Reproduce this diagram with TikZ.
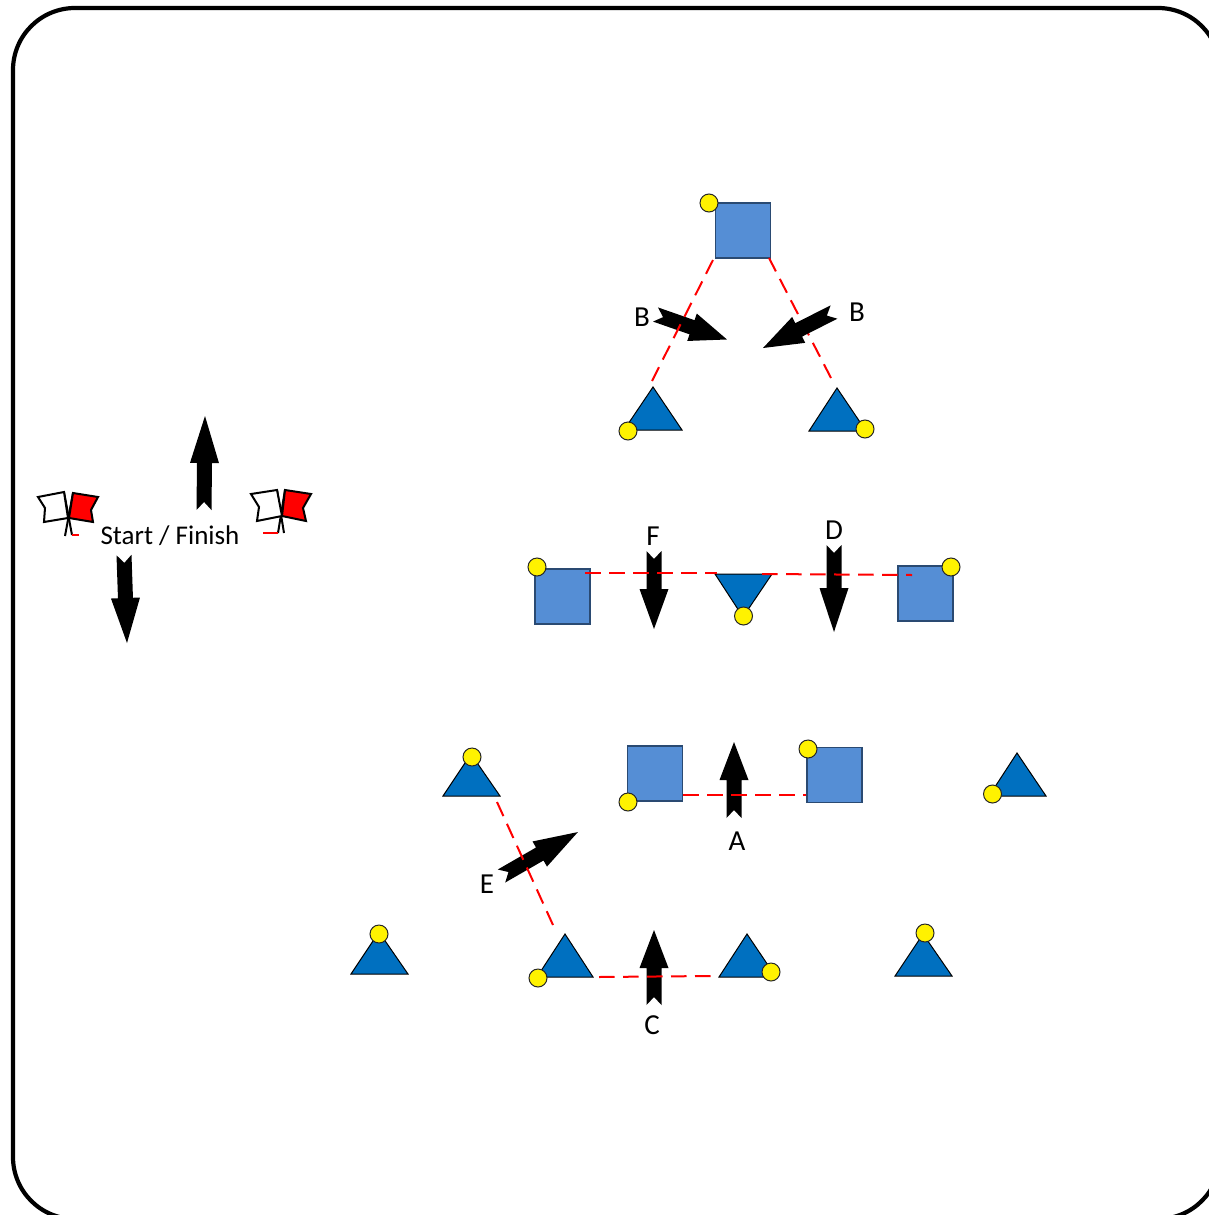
\documentclass[tikz,border=0pt]{standalone}
\usepackage{fontspec}
\setmainfont{Carlito}
\usetikzlibrary{calc}
\definecolor{sqblue}{HTML}{558ED5}
\definecolor{sqedge}{HTML}{2A4A72}
\definecolor{triblue}{HTML}{0070C0}
\tikzset{
  frame/.style={draw=black,line width=4.2pt,rounded corners=62pt},
  sq/.style={draw=sqedge,fill=sqblue,line width=1.2pt,minimum size=55pt,inner sep=0pt,rectangle},
  tri/.style={draw=black,fill=triblue,line width=1pt,line join=miter},
  dot/.style={circle,draw=black!85,fill=yellow,line width=1pt,minimum size=18pt,inner sep=0pt},
  redline/.style={draw=red,line width=2pt,dash pattern=on 15.5pt off 8.5pt},
  redtick/.style={draw=red,line width=2pt},
  arrowshape/.style={fill=black,draw=none},
  flagw/.style={draw=black,fill=white,line width=2pt,line join=miter},
  flagr/.style={draw=black,fill=red,line width=2pt,line join=miter},
  pole/.style={draw=black,line width=2pt},
  lab/.style={inner sep=0pt,font=\fontsize{27pt}{30pt}\selectfont,text=black},
  letter/.style={inner sep=0pt,font=\fontsize{29pt}{32pt}\selectfont,text=black}
}
% #1 tail centre, #2 tip, #3 head length
\newcommand{\notchedarrow}[3]{%
  \path let \p1=(#1),\p2=(#2),\n1={atan2(\y2-\y1,\x2-\x1)},\n2={veclen(\x2-\x1,\y2-\y1)} in
   [shift={(\p1)},rotate=\n1]
   [arrowshape] (0pt,7.5pt) -- (\n2-#3pt,7.5pt) -- (\n2-#3pt,14.5pt) -- (\n2,0pt)
   -- (\n2-#3pt,-14.5pt) -- (\n2-#3pt,-7.5pt) -- (0pt,-7.5pt) -- (8pt,0pt) -- cycle;}
\begin{document}
\begin{tikzpicture}[x=1pt,y=-1pt]
\useasboundingbox (0,0) rectangle (1209,1215);
\clip (0,0) rectangle (1209,1215);
\path[frame] (13,8) rectangle (1220,1219);

% arrow ends
\foreach \n/\xa/\ya/\xb/\yb in {up/204/510/205/416,dn/124/555/127/643,f/654/551/654/629,d/834/545/834/632,a/734/818/734/742,c/654/1005/654/930,e/501.5/876/578/832,bl/655.5/314.5/727/339.5,br/834/312/763/348}{
  \coordinate (\n t) at (\xa,\ya);
  \coordinate (\n h) at (\xb,\yb);
}

% squares
\node[sq] (s1) at (743,230.5) {};
\node[sq] (s2) at (562.5,596.5) {};
\node[sq] (s3) at (925.5,593.5) {};
\node[sq] (s4) at (655,773.5) {};
\node[sq] (s5) at (834.5,775) {};

% triangles
\foreach \n/\a/\b/\l/\r/\base in {t1/653/387/624/682/430,t2/837/388/809/866/431,t3/471/754/443/500/796,t4/1017/753/989/1046/796,t5/379/932/351/408/974,t6/565/934/537/593/977,t7/747/934/719/776/977,t8/923/934/895/952/976}{
  \coordinate (\n) at (\a,\b);
  \path[tri] (\a,\b) -- (\r,\base) -- (\l,\base) -- cycle;
}
\coordinate (t9) at (743,617);
\path[tri] (t9) -- (772,574) -- (715,574) -- cycle;

% arrows
\notchedarrow{upt}{uph}{47}
\notchedarrow{dnt}{dnh}{45}
\notchedarrow{ft}{fh}{40}
\notchedarrow{dt}{dh}{44}
\notchedarrow{at}{ah}{38}
\notchedarrow{ct}{ch}{38}
\notchedarrow{et}{eh}{44}
\notchedarrow{blt}{blh}{37}

% connector ends
\coordinate (c1a) at (652,381); \coordinate (c1b) at (714,258);
\coordinate (c2a) at (831,378); \coordinate (c2b) at (769,258);
\coordinate (c3a) at (585,573); \coordinate (c3b) at (717,573);
\coordinate (c4a) at (762,574); \coordinate (c4b) at (912,575);
\coordinate (c5a) at (683,795); \coordinate (c5b) at (806,795);
\coordinate (c6a) at (497,802); \coordinate (c6b) at (553,925);
\coordinate (c7a) at (599,977); \coordinate (c7b) at (711,976);
\draw[redline] (c1a) -- (c1b);
\draw[redline] (c2a) -- (c2b);
\draw[redline] (c3a) -- (c3b);
\draw[redline] (c4a) -- (c4b);
\draw[redline] (c5a) -- (c5b);
\draw[redline] (c6a) -- (c6b);
\draw[redline] (c7a) -- (c7b);
\notchedarrow{brt}{brh}{40}

% dots
\foreach \n/\x/\y in {1/709/203,2/628/431,3/865/429,4/537/567,5/743.5/616,6/951/567,7/472/757,8/628/802,9/808/749,10/992.5/794,11/379/934,12/538/978,13/771/972,14/925/933}{
  \node[dot] (y\n) at (\x,\y) {};
}

% flags
\draw[pole] (73,493) -- (65,536);
\draw[pole] (64,492) -- (72,535);
\draw[flagw] (38,497) -- (64,492) -- (68,518) -- (44,522) -- (45,508) -- cycle;
\draw[flagr] (73,493) -- (98,497) -- (91,510) -- (93,522) -- (69,518) -- cycle;
\coordinate (ft1) at (72,535); \coordinate (ft2) at (79,535);
\draw[redtick] (ft1) -- (ft2);
\draw[pole] (277,490) -- (284,533);
\draw[pole] (285,490) -- (278,533);
\draw[flagw] (251,494) -- (277,490) -- (282,516) -- (257,521) -- (259,507) -- cycle;
\draw[flagr] (285,490) -- (311,494) -- (303,508) -- (306,521) -- (282,516) -- cycle;
\coordinate (ft3) at (263,533); \coordinate (ft4) at (278,533);
\draw[redtick] (ft3) -- (ft4);

% labels
\node[lab] (lsf) at (170,536) {Start / Finish};
\node[letter] (lb1) at (642,317) {B};
\node[letter] (lb2) at (857,312) {B};
\node[letter] (lf) at (653,536) {F};
\node[letter] (ld) at (834,530) {D};
\node[letter] (la) at (737,841) {A};
\node[letter] (lc) at (652,1025) {C};
\node[letter] (le) at (487,884) {E};
\end{tikzpicture}
\end{document}
